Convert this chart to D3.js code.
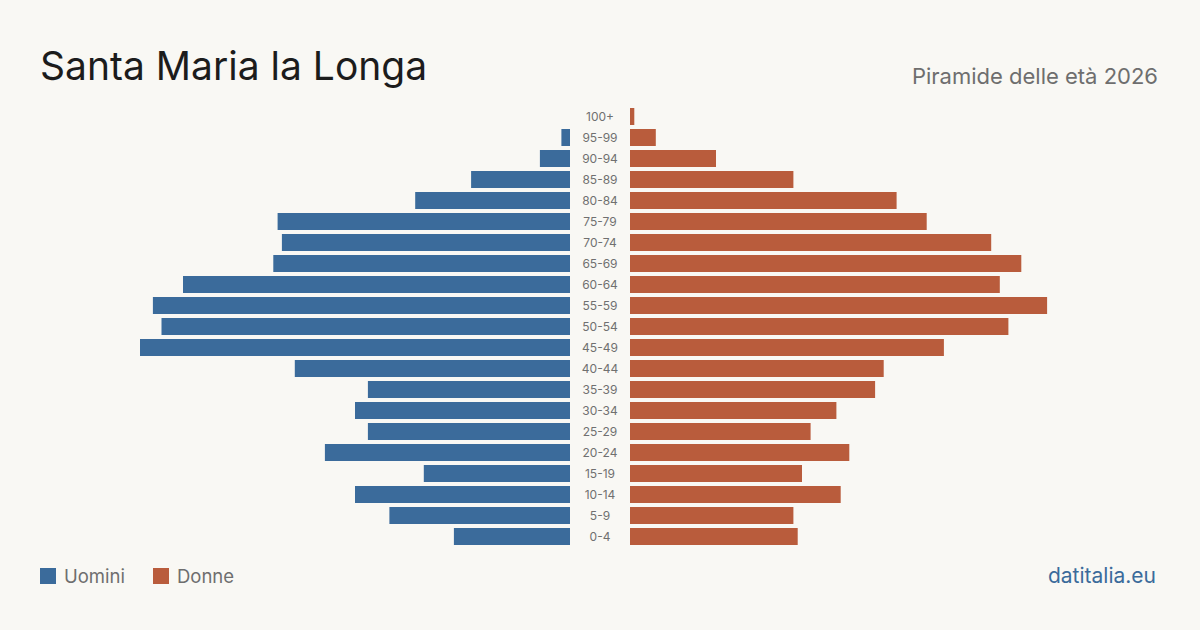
<!DOCTYPE html>
<html lang="it">
<head>
<meta charset="UTF-8">
<title>Santa Maria la Longa - Piramide delle età 2026</title>
<script src="https://d3js.org/d3.v7.min.js"></script>
<style>
    body { margin: 0; background: #f9f8f4; }
    svg { display: block; font-family: Inter, "Open Sans", sans-serif; }
</style>
</head>
<body>
<div id="chart"></div>
<script>
    // Age classes, top to bottom
    const ageGroups = ["100+", "95-99", "90-94", "85-89", "80-84", "75-79", "70-74", "65-69", "60-64", "55-59",
        "50-54", "45-49", "40-44", "35-39", "30-34", "25-29", "20-24", "15-19", "10-14", "5-9", "0-4"];
    const males = [0, 2, 7, 23, 36, 68, 67, 69, 90, 97, 95, 100, 64, 47, 50, 47, 57, 34, 50, 42, 27];
    const females = [1, 6, 20, 38, 62, 69, 84, 91, 86, 97, 88, 73, 59, 57, 48, 42, 51, 40, 49, 38, 39];
    const legendLabels = ["Uomini", "Donne"];

    const W = 1200, H = 630;
    const blue = "#3b6b9b", orange = "#b95c3c";
    const midLeft = 570, midRight = 630;

    const svg = d3.select("#chart").append("svg")
        .attr("width", W).attr("height", H);

    svg.append("rect").attr("width", W).attr("height", H).attr("fill", "#f9f8f4");

    // Titles
    svg.append("text")
        .attr("x", 40).attr("y", 80)
        .attr("font-size", 39)
        .attr("fill", "#1c1c1c")
        .text("Santa Maria la Longa");

    svg.append("text")
        .attr("x", 1158).attr("y", 84)
        .attr("text-anchor", "end")
        .attr("font-size", 22)
        .attr("fill", "#6e6e6e")
        .text("Piramide delle età 2026");

    // Scales
    const y = d3.scaleBand()
        .domain(ageGroups)
        .range([108 - 2, 108 - 2 + 21 * ageGroups.length])
        .paddingInner(4 / 21)
        .paddingOuter(2 / 21);

    const maxVal = d3.max(males.concat(females));
    const x = d3.scaleLinear().domain([0, maxVal]).range([0, 430]);

    // Male bars (left)
    svg.append("g").selectAll("rect")
        .data(ageGroups)
        .join("rect")
        .attr("x", (d, i) => midLeft - x(males[i]))
        .attr("y", d => y(d))
        .attr("width", (d, i) => x(males[i]))
        .attr("height", y.bandwidth())
        .attr("fill", blue);

    // Female bars (right)
    svg.append("g").selectAll("rect")
        .data(ageGroups)
        .join("rect")
        .attr("x", midRight)
        .attr("y", d => y(d))
        .attr("width", (d, i) => x(females[i]))
        .attr("height", y.bandwidth())
        .attr("fill", orange);

    // Age labels in the middle
    svg.append("g").selectAll("text")
        .data(ageGroups)
        .join("text")
        .attr("x", (midLeft + midRight) / 2)
        .attr("y", d => y(d) + y.bandwidth() / 2)
        .attr("dy", "0.35em")
        .attr("text-anchor", "middle")
        .attr("font-size", 12)
        .attr("fill", "#707070")
        .text(d => d);

    // Legend
    const legend = svg.append("g");
    const legendX = [40, 153];
    legendLabels.forEach((lab, i) => {
        legend.append("rect")
            .attr("x", legendX[i]).attr("y", 568)
            .attr("width", 16).attr("height", 16)
            .attr("fill", i === 0 ? blue : orange);
        legend.append("text")
            .attr("x", legendX[i] + 24).attr("y", 583)
            .attr("font-size", 18.5)
            .attr("fill", "#6e6e6e")
            .text(lab);
    });

    svg.append("text")
        .attr("x", 1156).attr("y", 583)
        .attr("text-anchor", "end")
        .attr("font-size", 21)
        .attr("fill", "#3b6b9b")
        .text("datitalia.eu");
</script>
</body>
</html>
